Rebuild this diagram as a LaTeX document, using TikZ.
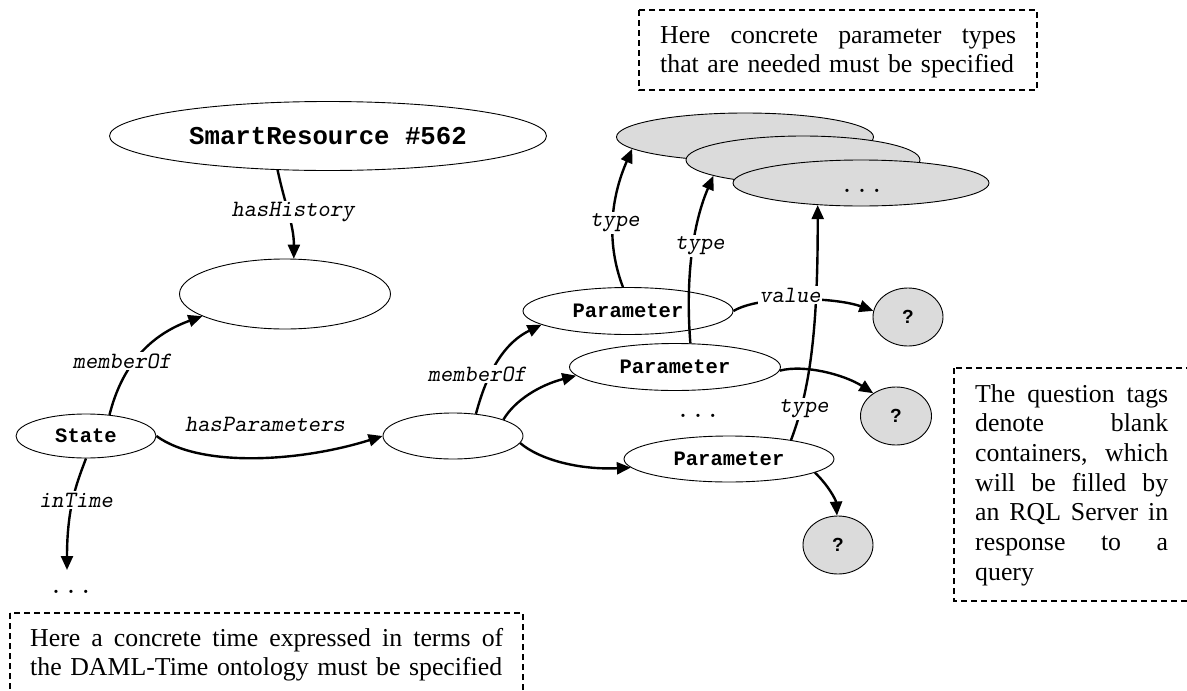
\documentclass[tikz,border=0pt]{standalone}
\usepackage{fontspec}
\setmainfont{Liberation Serif}
\newfontfamily\sansfam{Liberation Sans}
\newfontfamily\monofam{Liberation Mono}
\usetikzlibrary{shapes.geometric,arrows.meta}

\tikzset{
  resnode/.style={ellipse, draw, line width=0.9pt, fill=white, inner sep=0pt,
    font={\monofam\bfseries\fontsize{20.5}{24}\selectfont}},
  typenode/.style={ellipse, draw, line width=0.9pt, fill=black!14, inner sep=0pt},
  blanknode/.style={ellipse, draw, line width=0.9pt, fill=black!14, inner sep=0pt,
    minimum width=70pt, minimum height=58pt,
    font={\sansfam\bfseries\fontsize{19}{22}\selectfont}},
  link/.style={line width=2.4pt, -{Triangle[length=14pt,width=12pt]}},
  lbl/.style={fill=white, inner sep=1.5pt,
    font={\ttfamily\slshape\fontsize{23.4}{27}\selectfont}},
  dotsnode/.style={inner sep=0pt, font={\ttfamily\fontsize{29}{32}\selectfont}},
  notebox/.style={draw, line width=1.3pt, dash pattern=on 6pt off 4pt},
  notetext/.style={anchor=north west, inner sep=0pt, align=left}
}
% a line spread over the given width
\newcommand\fullline[2]{\makebox[#1][s]{#2}}

\begin{document}
\begin{tikzpicture}[x=1pt,y=-1pt]
\clip (0,0) rectangle (1187,691);

% resource, history and state nodes
\node[resnode, minimum width=437pt, minimum height=69pt,
  font={\monofam\bfseries\fontsize{25.7}{30}\selectfont}] (sr) at (328,136) {SmartResource \#562};
\node[resnode, minimum width=211pt, minimum height=70pt] (hist) at (285,294) {};
\node[resnode, minimum width=140pt, minimum height=44pt] (state) at (86,436) {State};
\node[resnode, minimum width=140pt, minimum height=46pt] (cont) at (453,436) {};

% parameters
\node[resnode, minimum width=210pt, minimum height=47pt] (p1) at (628,311) {Parameter};
\node[resnode, minimum width=211pt, minimum height=47pt] (p2) at (675,367) {Parameter};
\node[resnode, minimum width=210pt, minimum height=46pt] (p3) at (729,459) {Parameter};

% parameter types (stacked)
\node[typenode, minimum width=257pt, minimum height=48pt] (g1) at (745,137) {};
\node[typenode, minimum width=234pt, minimum height=48pt] (g2) at (803,160) {};
\node[typenode, minimum width=256pt, minimum height=46pt] (g3) at (861,183) {};
\node[dotsnode] (g3txt) at (862,191) {...};

% blank value containers
\node[blanknode] (q1) at (908,317) {?};
\node[blanknode, minimum width=71pt] (q2) at (896,416) {?};
\node[blanknode] (q3) at (838,545) {?};

% ellipsis marks
\node[dotsnode] (pdots) at (698,416) {...};
\node[dotsnode] (tdots) at (71,592) {...};
\coordinate (tend) at (67,570);

% connectors
\draw[link] (sr.-146.6) .. controls (285,205) and (294,225) .. (hist.76);
\draw[link] (state.42) .. controls (122,365) and (150,335) .. (hist.195.5);
\draw[link] (state.0) .. controls (200,468) and (300,462) .. (cont.180);
\draw[link] (state.-90) .. controls (78,480) and (67,505) .. (tend);
\draw[link] (cont.44) .. controls (485,380) and (500,345) .. (p1.189.6);
\draw[link] (cont.18) .. controls (515,400) and (540,385) .. (p2.185);
\draw[link] (cont.-6) .. controls (540,460) and (580,470) .. (p3.185);
\draw[link] (p1.102) .. controls (605,240) and (612,195) .. (g1.186.5);
\draw[link] (p2.57) .. controls (686,290) and (690,230) .. (g2.190);
\draw[link] (p3.17) .. controls (810,390) and (818,330) .. (g3.207);
\draw[link] (p1.0) .. controls (760,295) and (835,297) .. (q1.170);
\draw[link] (p2.-2) .. controls (805,364) and (845,375) .. (q2.135);
\draw[link] (p3.-9) .. controls (828,485) and (836,500) .. (q3.92);

% connector labels
\node[lbl] (lhist) at (293,212) {hasHistory};
\node[lbl] (lmem1) at (122,361) {memberOf};
\node[lbl] (lpar) at (265,424) {hasParameters};
\node[lbl] (ltime) at (76,500) {inTime};
\node[lbl] (lmem2) at (477,374) {memberOf};
\node[lbl] (ltype1) at (615,223) {type};
\node[lbl] (ltype2) at (700,246) {type};
\node[lbl] (ltype3) at (804,409) {type};
\node[lbl] (lval) at (790,295) {value};

% notes (first lines set flush to both margins)
\draw[notebox] (639,10) rectangle (1037,90);
\node[notetext, text width=356pt, font={\fontsize{25.8}{29}\selectfont}] (ntop) at (660,22.7)
  {\strut\fullline{356pt}{Here\hfill concrete\hfill parameter\hfill types}\\that are needed must be specified};

\draw[notebox] (10,613) rectangle (523,720);
\node[notetext, text width=473pt, font={\fontsize{25.8}{28.5}\selectfont}] (ntime) at (30,626.7)
  {\strut\fullline{473pt}{Here\hfill a\hfill concrete\hfill time\hfill expressed\hfill in\hfill terms\hfill of}\\the DAML-Time ontology must be specified};

\draw[notebox] (954,368) rectangle (1215,601);
\node[notetext, text width=193pt, font={\fontsize{25.8}{29.7}\selectfont}] (nblank) at (975,381.2)
  {\strut\fullline{193pt}{The\hfill question\hfill tags}\\
   \fullline{193pt}{denote\hfill blank}\\
   \fullline{193pt}{containers,\hfill which}\\
   \fullline{193pt}{will\hfill be\hfill filled\hfill by}\\
   \fullline{193pt}{an\hfill RQL\hfill Server\hfill in}\\
   \fullline{193pt}{response\hfill to\hfill a}\\
   query};
\end{tikzpicture}
\end{document}
